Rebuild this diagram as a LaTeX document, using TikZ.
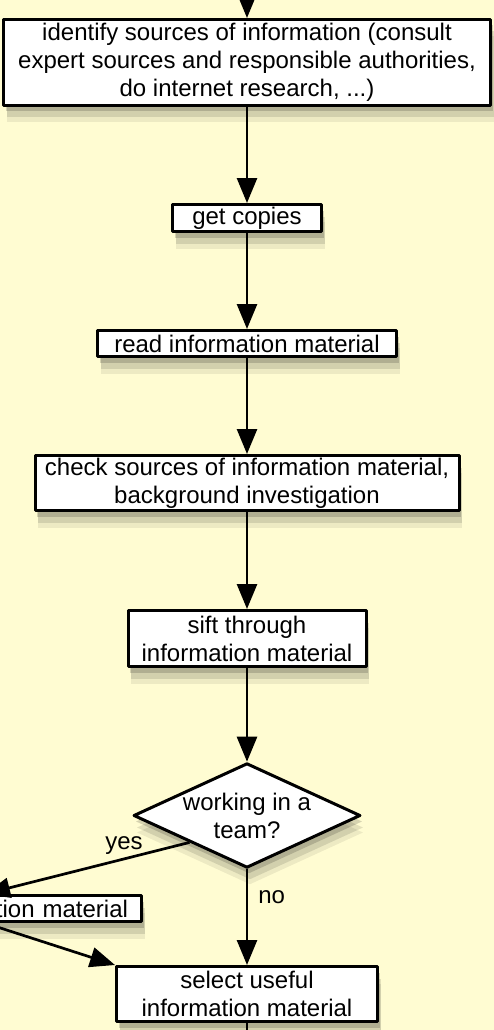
\documentclass[tikz,border=0pt]{standalone}
\usepackage{fontspec}
\setmainfont{Liberation Sans}
\usetikzlibrary{arrows.meta,shapes.geometric,shadows}
\definecolor{bgyellow}{RGB}{255,252,210}
\begin{document}
\begin{tikzpicture}[x=1pt,y=-1pt,line join=round,>={Triangle[width=20pt,length=25pt]},line width=2.7pt]
 \tikzset{box style/.style={draw,line width=3pt,fill=white,inner sep=0pt,align=center,font=\fontsize{24}{28}\selectfont,
   general shadow={fill=black,opacity=.07,shadow xshift=3pt,shadow yshift=-17pt},
   general shadow={fill=black,opacity=.11,shadow xshift=3pt,shadow yshift=-12pt},
   general shadow={fill=black,opacity=.16,shadow xshift=2pt,shadow yshift=-6pt}},
   answer style/.style={font=\fontsize{24}{28}\selectfont,inner sep=3pt}}
 \useasboundingbox (0,0) rectangle (494,1030);
 \clip (0,0) rectangle (494,1030);
 \fill[bgyellow] (0,0) rectangle (494,1030);
 \node[box style,minimum width=487pt,minimum height=86pt] (ident) at (247,62.5) {identify sources of information (consult\\expert sources and responsible authorities,\\do internet research, ...)};
 \node[box style,minimum width=149pt,minimum height=27pt] (copies) at (247,218) {get copies};
 \node[box style,minimum width=299pt,minimum height=26pt] (readmat) at (247,343.5) {read information material};
 \node[box style,minimum width=424pt,minimum height=55pt] (check) at (247,483) {check sources of information material,\\background investigation};
 \node[box style,minimum width=238pt,minimum height=56pt] (sift) at (247,638.5) {sift through\\information material};
 \node[box style,shape=diamond,aspect=2.17,minimum width=225pt,minimum height=102pt] (team) at (247,815.5) {working in a\\team?};
 \node[box style,text width=286pt,align=right,inner xsep=13.5pt,minimum height=26pt] (share) at (-15,908.5) {tion material};
 \node[box style,minimum width=261pt,minimum height=55pt] (select) at (247,994) {select useful\\information material};
 \coordinate (topin) at (247,-30);
 \coordinate (botout) at (247,1060);
 \draw[->] (topin) -- (ident);
 \draw[->] (ident) -- (copies);
 \draw[->] (copies) -- (readmat);
 \draw[->] (readmat) -- (check);
 \draw[->] (check) -- (sift);
 \draw[->] (sift) -- (team);
 \draw[->] (team) -- node[pos=.29,right=7pt,answer style] {no} (select);
 \draw[->] (team.south west) -- node[pos=.32,above=0pt,answer style] {yes} (share.north);
 \draw[->] (share.south) -- (select.north west);
 \draw (select) -- (botout);
\end{tikzpicture}
\end{document}
